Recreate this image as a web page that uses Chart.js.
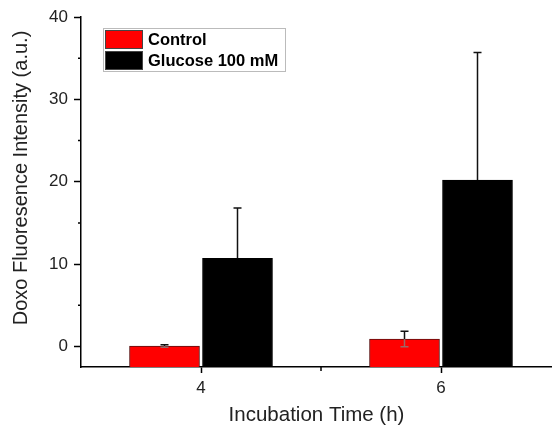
<!DOCTYPE html>
<html>
<head>
<meta charset="utf-8">
<script src="https://cdn.jsdelivr.net/npm/chart.js@4/dist/chart.umd.min.js"></script>
<style>
body{margin:0;background:#fff;}
</style>
</head>
<body>
<canvas id="c" width="552" height="432"></canvas>
<script>
let canvas = document.getElementById('c');
let ctx = canvas.getContext('2d');

// data
let times = [4, 6];
let seriesNames = ['Control', 'Glucose 100 mM'];
let control = [0.05, 0.9];
let controlErr = [0.15, 0.95];
let glucose = [10.7, 20.2];
let glucoseErr = [6.1, 15.5];
let xTicks = [4, 5, 6];
let xMajor = [4, 6];
let yTicks = [0, 5, 10, 15, 20, 25, 30, 35, 40];
let yMin = -2.5, yMax = 40;
let xMin = 3, xMax = 6.925;
let yTitle = 'Doxo Fluoresence Intensity (a.u.)';

let font = 'Arial, "Liberation Sans", sans-serif';

function pts(vals){
	return times.map((t, i) => ({x: t, y: vals[i]}));
}

let errPlugin = {
	id: 'errs',
	afterDatasetsDraw(chart){
		let c = chart.ctx;
		let errs = [controlErr, glucoseErr];
		chart.data.datasets.forEach((ds, di) => {
			let meta = chart.getDatasetMeta(di);
			meta.data.forEach((bar, i) => {
				let v = ds.data[i].y;
				let e = errs[di][i];
				let yTop = chart.scales.y.getPixelForValue(v + e);
				let yMid = chart.scales.y.getPixelForValue(v);
				let yBot = chart.scales.y.getPixelForValue(v - e);
				c.save();
				c.lineWidth = 1.5;
				c.strokeStyle = '#111';
				c.beginPath();
				c.moveTo(bar.x, yMid); c.lineTo(bar.x, yTop);
				c.moveTo(bar.x - 4, yTop); c.lineTo(bar.x + 4, yTop);
				c.stroke();
				// lower whisker only shows on the red bars
				if (di === 0) {
					c.strokeStyle = 'rgba(130,130,130,0.8)';
					c.beginPath();
					c.moveTo(bar.x, yMid); c.lineTo(bar.x, yBot);
					c.moveTo(bar.x - 4, yBot); c.lineTo(bar.x + 4, yBot);
					c.stroke();
				}
				c.restore();
			});
		});
	},
	afterDraw(chart){
		let c = chart.ctx;
		let xs = chart.scales.x, ys = chart.scales.y;
		c.save();
		c.strokeStyle = '#000';
		c.lineWidth = 1.5;
		c.beginPath();
		// minor ticks
		yTicks.filter(v => v % 10 !== 0).forEach(v => {
			let y = ys.getPixelForValue(v);
			c.moveTo(ys.right - 3, y); c.lineTo(ys.right, y);
		});
		xTicks.filter(v => xMajor.indexOf(v) < 0).forEach(v => {
			let x = xs.getPixelForValue(v);
			c.moveTo(x, xs.top); c.lineTo(x, xs.top + 4);
		});
		c.stroke();

		// y title, sits a bit above the axis middle in the original
		c.save();
		c.translate(21, 178);
		c.rotate(-Math.PI / 2);
		c.fillStyle = '#222';
		c.font = '20px ' + font;
		c.textAlign = 'center';
		c.textBaseline = 'middle';
		c.fillText(yTitle, 0, 0);
		c.restore();

		// legend
		let lx = 103, ly = 28;
		c.fillStyle = '#fff';
		c.fillRect(lx, ly, 182, 43);
		c.strokeStyle = '#bbb';
		c.lineWidth = 1;
		c.strokeRect(lx + 0.5, ly + 0.5, 182, 43);
		chart.data.datasets.forEach((ds, i) => {
			let y0 = ly + 2 + i * 21;
			c.fillStyle = ds.backgroundColor;
			c.fillRect(lx + 2, y0, 38, 19);
			c.strokeStyle = '#444';
			c.strokeRect(lx + 2.5, y0 + 0.5, 37, 18);
			c.fillStyle = '#000';
			c.font = 'bold 16.5px ' + font;
			c.textBaseline = 'middle';
			c.fillText(ds.label, lx + 45, y0 + 10);
		});
		c.restore();
	}
};

let chart = new Chart(ctx, {
	type: 'bar',
	data: {
		datasets: [{
			label: seriesNames[0],
			data: pts(control),
			backgroundColor: '#ff0000',
			borderColor: '#5a1010',
			borderWidth: 1,
			base: yMin
		}, {
			label: seriesNames[1],
			data: pts(glucose),
			backgroundColor: '#000000',
			borderColor: '#000000',
			borderWidth: 1,
			base: yMin
		}]
	},
	options: {
		responsive: false,
		animation: false,
		barThickness: 73,
		maxBarThickness: 70,
		layout: {padding: {top: 17, right: 0, left: 0, bottom: 0}},
		plugins: {legend: {display: false}, tooltip: {enabled: false}},
		scales: {
			x: {
				type: 'linear',
				min: xMin, max: xMax,
				offset: false,
				afterBuildTicks: s => { s.ticks = xTicks.map(v => ({value: v})); },
				afterFit: s => { s.height = 65; },
				grid: {drawOnChartArea: false, offset: false, tickLength: 6, tickWidth: 1.5,
					tickColor: c => xMajor.indexOf(c.tick.value) >= 0 ? '#000' : 'rgba(0,0,0,0)'},
				border: {color: '#000', width: 1.5},
				ticks: {
					autoSkip: false, maxRotation: 0, padding: 5,
					color: '#222', font: {family: font, size: 17},
					callback: v => xMajor.indexOf(v) >= 0 ? String(v) : ''
				},
				title: {display: true, text: 'Incubation Time (h)', color: '#222',
					font: {family: font, size: 20.5}, padding: {top: 0, bottom: 4}}
			},
			y: {
				min: yMin, max: yMax,
				afterBuildTicks: s => { s.ticks = yTicks.map(v => ({value: v})); },
				afterFit: s => { s.width = 81; },
				grid: {drawOnChartArea: false, tickLength: 7, tickWidth: 1.5,
					tickColor: c => c.tick.value % 10 === 0 ? '#000' : 'rgba(0,0,0,0)'},
				border: {color: '#000', width: 1.5},
				ticks: {
					padding: 6, color: '#222', font: {family: font, size: 17},
					callback: v => v % 10 === 0 ? String(v) : ''
				},
				title: {display: false}
			}
		}
	},
	plugins: [errPlugin]
});
</script>
</body>
</html>
